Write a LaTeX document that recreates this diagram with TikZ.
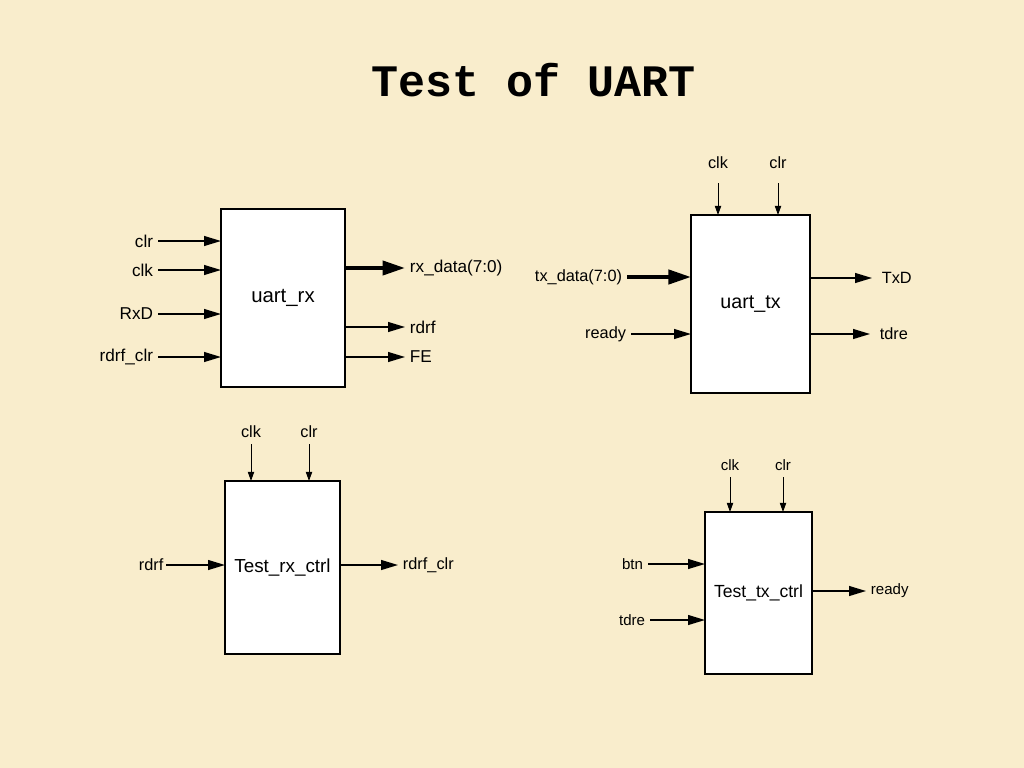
\documentclass[tikz,border=0pt]{standalone}
\usepackage{fontspec}
\setmainfont{Liberation Sans}
\newfontfamily\titlefont{Liberation Mono}
\usepackage{xcolor}
\definecolor{cPaper}{HTML}{F9EDCC}
\definecolor{cInk}{HTML}{000000}
\usetikzlibrary{positioning,arrows.meta}
\tikzset{
  node-box/.style={draw=cInk,line width=0.8pt,fill=white,inner sep=0pt,outer sep=0pt},
  node-title/.style={font=\titlefont\bfseries\fontsize{32}{36}\selectfont},
  pin-lg/.style={font=\fontsize{12.2}{14}\selectfont},
  pin/.style={font=\fontsize{11.6}{14}\selectfont},
  pin-sm/.style={font=\fontsize{10.7}{13}\selectfont},
  arrow/.style={-{Triangle[length=12pt,width=7pt]},line width=1pt,draw=cInk},
  arrow-clk/.style={-{Triangle[length=6.5pt,width=4.5pt]},line width=0.7pt,draw=cInk},
  arrow-bus/.style={-{Triangle[length=16pt,width=10pt]},line width=2.8pt,draw=cInk},
}
\begin{document}
\begin{tikzpicture}[x=0.025cm,y=-0.025cm]
  \fill[cPaper] (0,0) rectangle (1024,768);
  \useasboundingbox (0,0) rectangle (1024,768);
  \node[node-title] (title) at (534,80) {Test of UART};

  % uart_rx
  \node[node-box,minimum width=3.1cm,minimum height=4.45cm,
    font=\fontsize{14.5}{17}\selectfont] (rx) at (283,298) {uart\_rx};
  \coordinate[label={[pin-lg]left:clr}]            (rxclr)  at (158,241);
  \coordinate[label={[pin-lg]left:clk}]            (rxclk)  at (158,270);
  \coordinate[label={[pin-lg]left:RxD}]            (rxrxd)  at (158,314);
  \coordinate[label={[pin-lg]left:rdrf\_clr}]      (rxrclr) at (158,357);
  \coordinate[label={[pin-lg]right:rx\_data(7:0)}] (rxdata) at (405,268);
  \coordinate[label={[pin-lg]right:rdrf}]          (rxrdrf) at (405,327);
  \coordinate[label={[pin-lg]right:FE}]            (rxfe)   at (405,357);
  \draw[arrow]     (rxclr)  -- (rxclr -| rx.west);
  \draw[arrow]     (rxclk)  -- (rxclk -| rx.west);
  \draw[arrow]     (rxrxd)  -- (rxrxd -| rx.west);
  \draw[arrow]     (rxrclr) -- (rxrclr -| rx.west);
  \draw[arrow-bus] (rxdata -| rx.east) -- (rxdata);
  \draw[arrow]     (rxrdrf -| rx.east) -- (rxrdrf);
  \draw[arrow]     (rxfe -| rx.east)   -- (rxfe);

  % uart_tx
  \node[node-box,minimum width=2.975cm,minimum height=4.45cm,
    font=\fontsize{14}{17}\selectfont] (tx) at (750.5,304) {uart\_tx};
  \coordinate[label={[pin,label distance=0.24cm]above:clk}] (txclk) at (718,183);
  \coordinate[label={[pin,label distance=0.24cm]above:clr}] (txclr) at (778,183);
  \coordinate[label={[pin]left:tx\_data(7:0)}]              (txdata) at (627,277);
  \coordinate[label={[pin]left:ready}]                      (txrdy)  at (631,334);
  \coordinate[label={[pin,label distance=0.12cm]right:TxD}] (txtxd)  at (872,278);
  \coordinate[label={[pin,label distance=0.12cm]right:tdre}] (txtdre) at (870,334);
  \draw[arrow-clk] (txclk) -- (txclk |- tx.north);
  \draw[arrow-clk] (txclr) -- (txclr |- tx.north);
  \draw[arrow-bus] (txdata) -- (txdata -| tx.west);
  \draw[arrow]     (txrdy)  -- (txrdy -| tx.west);
  \draw[arrow]     (txtxd -| tx.east)  -- (txtxd);
  \draw[arrow]     (txtdre -| tx.east) -- (txtdre);

  % Test_rx_ctrl
  \node[node-box,minimum width=2.875cm,minimum height=4.325cm,
    font=\fontsize{13.4}{16}\selectfont] (rxc) at (282.5,567.5) {Test\_rx\_ctrl};
  \coordinate[label={[pin,label distance=0.04cm]above:clk}] (rxcclk) at (251,444);
  \coordinate[label={[pin,label distance=0.04cm]above:clr}] (rxcclr) at (309,444);
  \coordinate[label={[pin,label distance=-0.06cm]left:rdrf}] (rxcrdrf) at (166,565);
  \coordinate[label={[pin]right:rdrf\_clr}]                  (rxcrclr) at (398,565);
  \draw[arrow-clk] (rxcclk) -- (rxcclk |- rxc.north);
  \draw[arrow-clk] (rxcclr) -- (rxcclr |- rxc.north);
  \draw[arrow]     (rxcrdrf) -- (rxcrdrf -| rxc.west);
  \draw[arrow]     (rxcrclr -| rxc.east) -- (rxcrclr);

  % Test_tx_ctrl
  \node[node-box,minimum width=2.675cm,minimum height=4.05cm,
    font=\fontsize{12.5}{15}\selectfont] (txc) at (758.5,593) {Test\_tx\_ctrl};
  \coordinate[label={[pin-sm,label distance=0.03cm]above:clk}] (txcclk) at (730,477);
  \coordinate[label={[pin-sm,label distance=0.03cm]above:clr}] (txcclr) at (783,477);
  \coordinate[label={[pin-sm]left:btn}]                        (txcbtn) at (648,564);
  \coordinate[label={[pin-sm]left:tdre}]                       (txctdre) at (650,620);
  \coordinate[label={[pin-sm]right:ready}]                     (txcrdy) at (866,591);
  \draw[arrow-clk] (txcclk) -- (txcclk |- txc.north);
  \draw[arrow-clk] (txcclr) -- (txcclr |- txc.north);
  \draw[arrow]     (txcbtn)  -- (txcbtn -| txc.west);
  \draw[arrow]     (txctdre) -- (txctdre -| txc.west);
  \draw[arrow]     (txcrdy -| txc.east) -- (txcrdy);
\end{tikzpicture}
\end{document}
